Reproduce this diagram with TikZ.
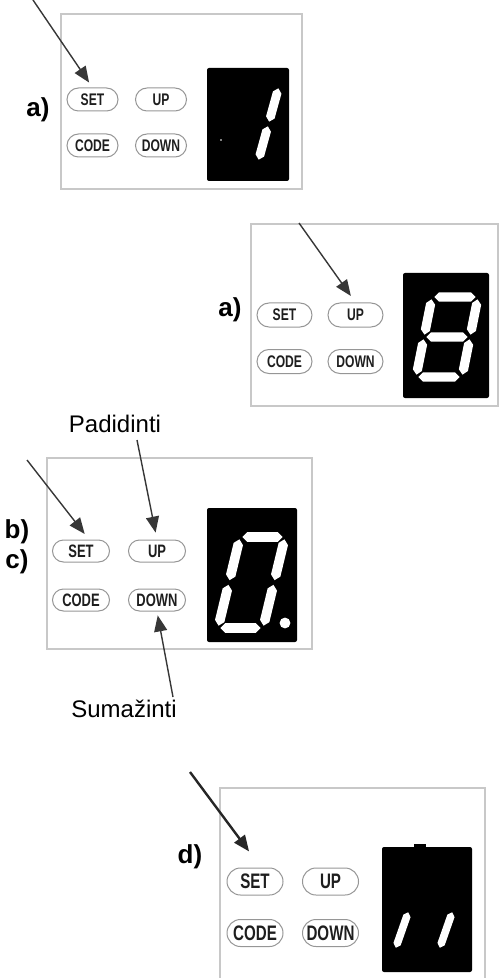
\documentclass[tikz,border=0pt]{standalone}
\usepackage{fontspec}
\setmainfont{Liberation Sans}
\newfontfamily\btnfont[FakeStretch=0.72]{Liberation Sans}
\usetikzlibrary{arrows.meta,calc,shapes.misc}

\definecolor{framegray}{RGB}{200,200,200}
\definecolor{btngray}{RGB}{150,150,150}
\definecolor{btntext}{RGB}{30,30,30}
\definecolor{arrowgray}{RGB}{55,55,55}

\newcommand\digitpts[5]{%
  \coordinate (TL) at (#1+#5,#2);
  \coordinate (TR) at (#1+#5+#3,#2);
  \coordinate (ML) at (#1+#5/2,#2+#4/2);
  \coordinate (MR) at (#1+#5/2+#3,#2+#4/2);
  \coordinate (BL) at (#1,#2+#4);
  \coordinate (BR) at (#1+#3,#2+#4);
}
\newcommand\seg[3]{%
  \coordinate (sa) at ($(#1)!1.2pt!(#2)$);
  \coordinate (sb) at ($(#2)!1.2pt!(#1)$);
  \fill[white] (sa) -- ($(sa)!#3!(sb)!#3!90:(sb)$) -- ($(sb)!#3!(sa)!#3!-90:(sa)$)
    -- (sb) -- ($(sb)!#3!(sa)!#3!90:(sa)$) -- ($(sa)!#3!(sb)!#3!-90:(sb)$) -- cycle;
}

\tikzset{
  panel/.style={draw=framegray, line width=0.7pt},
  disp/.style={fill=black, rounded corners=1pt},
  btn/.style n args={3}{rounded rectangle, draw=btngray, line width=0.5pt, inner sep=0pt,
    text=btntext, minimum width=#1, minimum height=#2, font=\btnfont\bfseries\fontsize{#3}{#3}\selectfont},
  tag/.style={font=\bfseries\fontsize{13}{13}\selectfont, inner sep=0pt},
  note/.style={font=\fontsize{12}{12}\selectfont, inner sep=0pt, anchor=base},
  ptr/.style={draw=arrowgray, line width=0.7pt, -{Triangle[length=8pt,width=6.5pt]}},
}

\begin{document}
\begin{tikzpicture}[x=0.5pt,y=-0.5pt]
\useasboundingbox (0,0) rectangle (500,978);

\draw[panel] (61,14) rectangle (302,189);
\fill[disp] (207,68) rectangle (289,181);
\fill[gray] (220,139) rectangle (222,141);
\digitpts{214}{86}{44}{76}{21}
\foreach \a/\b in {TR/MR,MR/BR} {\seg{\a}{\b}{2.2pt}}
\foreach \n/\t/\x/\y in {set/SET/92.5/99.5,up/UP/161/99.5,code/CODE/92.5/145.5,down/DOWN/161/145.5}
  \node[btn={25.5pt}{11.5pt}{8.4}] (p1\n) at (\x,\y) {\t};
\node[tag] (p1tag) at (38,110) {a)};
\coordinate (p1tail) at (33,0);
\draw[ptr, shorten >=3pt] (p1tail) -- (p1set.north);

\draw[panel] (251,224) rectangle (498,406);
\fill[disp] (403,273) rectangle (489,398);
\digitpts{416}{297}{46}{80}{16}
\foreach \a/\b in {TL/TR,TR/MR,MR/BR,BL/BR,ML/BL,TL/ML,ML/MR} {\seg{\a}{\b}{2.3pt}}
\foreach \n/\t/\x/\y in {set/SET/284.5/315,up/UP/355.5/315,code/CODE/284.5/361.5,down/DOWN/355.5/361.5}
  \node[btn={27.5pt}{12pt}{8.4}] (p2\n) at (\x,\y) {\t};
\node[tag] (p2tag) at (230,310) {a)};
\coordinate (p2tail) at (299,223);
\draw[ptr, shorten >=4pt] (p2tail) -- (p2up.north);

\draw[panel] (47,458) rectangle (312,649);
\fill[disp] (207,508) rectangle (297,642);
\digitpts{218}{537}{45}{91}{22}
\foreach \a/\b in {TL/TR,TR/MR,MR/BR,BL/BR,ML/BL,TL/ML} {\seg{\a}{\b}{2.4pt}}
\fill[white] (285,623) circle (2.7pt);
\foreach \n/\t/\x/\y in {set/SET/81/551,up/UP/157/551,code/CODE/81/600,down/DOWN/157/600}
  \node[btn={28.5pt}{11pt}{9}] (p3\n) at (\x,\y) {\t};
\node[tag] (p3tagb) at (17,532) {b)};
\node[tag] (p3tagc) at (17,562) {c)};
\node[note] (p3inc) at (115,432) {Padidinti};
\node[note] (p3dec) at (124,717) {Sumažinti};
\coordinate (p3tail) at (27,460);
\coordinate (p3inctail) at (137,440);
\coordinate (p3dectail) at (173,697);
\draw[ptr, shorten >=3.5pt] (p3tail) -- ([xshift=4pt]p3set.north);
\draw[ptr, shorten >=3.5pt] (p3inctail) -- (p3up.north);
\draw[ptr, shorten >=2pt] (p3dectail) -- (p3down.south);

\draw[panel] (220,978) |- (485,788) -- (485,978);
\fill[disp] (382,847) rectangle (472,972);
\fill (414,844) rectangle (426,848);
\digitpts{395}{870}{44}{80}{28}
\foreach \a/\b in {ML/BL,MR/BR} {\seg{\a}{\b}{1.9pt}}
\foreach \n/\t/\x/\y in {set/SET/255/881.5,up/UP/330.5/881.5,code/CODE/255/933,down/DOWN/330.5/933}
  \node[btn={28pt}{13.5pt}{10.5}] (p4\n) at (\x,\y) {\t};
\node[tag] (p4tag) at (190,857) {d)};
\coordinate (p4tail) at (190,772);
\draw[ptr, line width=1.2pt, draw=black!85, shorten >=10pt] (p4tail) -- ([xshift=3pt]p4set.north);
\end{tikzpicture}
\end{document}
